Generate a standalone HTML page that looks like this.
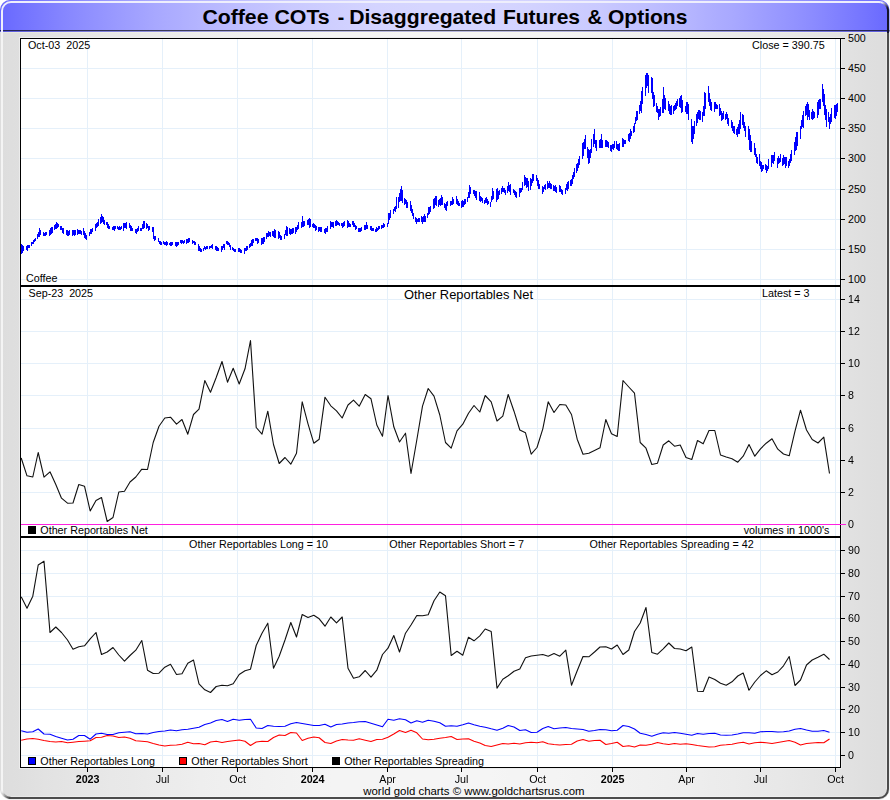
<!DOCTYPE html>
<html><head><meta charset="utf-8"><title>Coffee COTs</title>
<style>html,body{margin:0;padding:0;background:#fff;}svg{display:block}text{font-family:"Liberation Sans",sans-serif;fill:#000}</style></head><body>
<svg width="890" height="800" viewBox="0 0 890 800">
<defs>
<linearGradient id="bg" x1="0" x2="1" y1="0" y2="0"><stop offset="0.000" stop-color="#dddddd"/><stop offset="0.025" stop-color="#dfdfdf"/><stop offset="0.050" stop-color="#e2e2e2"/><stop offset="0.075" stop-color="#e4e4e4"/><stop offset="0.100" stop-color="#e6e6e6"/><stop offset="0.125" stop-color="#e8e8e8"/><stop offset="0.150" stop-color="#e9e9e9"/><stop offset="0.175" stop-color="#ebebeb"/><stop offset="0.200" stop-color="#ececec"/><stop offset="0.225" stop-color="#eeeeee"/><stop offset="0.250" stop-color="#efefef"/><stop offset="0.275" stop-color="#f0f0f0"/><stop offset="0.300" stop-color="#f1f1f1"/><stop offset="0.325" stop-color="#f2f2f2"/><stop offset="0.350" stop-color="#f3f3f3"/><stop offset="0.375" stop-color="#f4f4f4"/><stop offset="0.400" stop-color="#f4f4f4"/><stop offset="0.425" stop-color="#f4f4f4"/><stop offset="0.450" stop-color="#f5f5f5"/><stop offset="0.475" stop-color="#f5f5f5"/><stop offset="0.500" stop-color="#f5f5f5"/><stop offset="0.525" stop-color="#f5f5f5"/><stop offset="0.550" stop-color="#f5f5f5"/><stop offset="0.575" stop-color="#f4f4f4"/><stop offset="0.600" stop-color="#f4f4f4"/><stop offset="0.625" stop-color="#f4f4f4"/><stop offset="0.650" stop-color="#f3f3f3"/><stop offset="0.675" stop-color="#f2f2f2"/><stop offset="0.700" stop-color="#f1f1f1"/><stop offset="0.725" stop-color="#f0f0f0"/><stop offset="0.750" stop-color="#efefef"/><stop offset="0.775" stop-color="#eeeeee"/><stop offset="0.800" stop-color="#ececec"/><stop offset="0.825" stop-color="#ebebeb"/><stop offset="0.850" stop-color="#e9e9e9"/><stop offset="0.875" stop-color="#e8e8e8"/><stop offset="0.900" stop-color="#e6e6e6"/><stop offset="0.925" stop-color="#e4e4e4"/><stop offset="0.950" stop-color="#e2e2e2"/><stop offset="0.975" stop-color="#dfdfdf"/><stop offset="1.000" stop-color="#dddddd"/></linearGradient>
<linearGradient id="hg" x1="0" x2="1" y1="0" y2="0"><stop offset="0.000" stop-color="#6868ff"/><stop offset="0.025" stop-color="#7373ff"/><stop offset="0.050" stop-color="#7d7dff"/><stop offset="0.075" stop-color="#8787ff"/><stop offset="0.100" stop-color="#9090ff"/><stop offset="0.125" stop-color="#9898ff"/><stop offset="0.150" stop-color="#a0a0ff"/><stop offset="0.175" stop-color="#a8a8ff"/><stop offset="0.200" stop-color="#aeaeff"/><stop offset="0.225" stop-color="#b5b5ff"/><stop offset="0.250" stop-color="#babaff"/><stop offset="0.275" stop-color="#c0c0ff"/><stop offset="0.300" stop-color="#c4c4ff"/><stop offset="0.325" stop-color="#c9c9ff"/><stop offset="0.350" stop-color="#ccccff"/><stop offset="0.375" stop-color="#cfcfff"/><stop offset="0.400" stop-color="#d2d2ff"/><stop offset="0.425" stop-color="#d4d4ff"/><stop offset="0.450" stop-color="#d5d5ff"/><stop offset="0.475" stop-color="#d6d6ff"/><stop offset="0.500" stop-color="#d6d6ff"/><stop offset="0.525" stop-color="#d6d6ff"/><stop offset="0.550" stop-color="#d5d5ff"/><stop offset="0.575" stop-color="#d4d4ff"/><stop offset="0.600" stop-color="#d2d2ff"/><stop offset="0.625" stop-color="#cfcfff"/><stop offset="0.650" stop-color="#ccccff"/><stop offset="0.675" stop-color="#c9c9ff"/><stop offset="0.700" stop-color="#c4c4ff"/><stop offset="0.725" stop-color="#c0c0ff"/><stop offset="0.750" stop-color="#babaff"/><stop offset="0.775" stop-color="#b5b5ff"/><stop offset="0.800" stop-color="#aeaeff"/><stop offset="0.825" stop-color="#a8a8ff"/><stop offset="0.850" stop-color="#a0a0ff"/><stop offset="0.875" stop-color="#9898ff"/><stop offset="0.900" stop-color="#9090ff"/><stop offset="0.925" stop-color="#8787ff"/><stop offset="0.950" stop-color="#7d7dff"/><stop offset="0.975" stop-color="#7373ff"/><stop offset="1.000" stop-color="#6868ff"/></linearGradient>
<clipPath id="fr"><rect x="0" y="0" width="889.5" height="799.5" rx="10" ry="10"/></clipPath>
<clipPath id="p1"><rect x="21" y="39" width="819" height="246"/></clipPath>
<clipPath id="p2"><rect x="21" y="287" width="819" height="249"/></clipPath>
<clipPath id="p3"><rect x="21" y="538" width="819" height="229"/></clipPath>
</defs>
<rect x="0" y="0" width="890" height="800" fill="#fff"/>
<g clip-path="url(#fr)">
<rect x="0" y="0" width="890" height="800" fill="url(#bg)"/>
<rect x="0" y="0" width="890" height="32" fill="url(#hg)"/>
<rect x="0" y="30" width="890" height="1" fill="#000" fill-opacity="0.66"/>
<rect x="0" y="31" width="890" height="1" fill="#000018" fill-opacity="0.14"/>
<rect x="0" y="32" width="890" height="1" fill="#ffffd8" fill-opacity="0.28"/>
<path d="M2 33 V11 A9 9 0 0 1 11 2 H879" fill="none" stroke="#eeeefc" stroke-width="2"/>
<path d="M2 789 V33" fill="none" stroke="#f4f4f4" stroke-width="2"/>
<path d="M888 33 V789 A9 9 0 0 1 879 798 H11" fill="none" stroke="#4c4c4c" stroke-width="2"/>
<path d="M8.34 797.60 A9 9 0 0 1 7.16 797.14" fill="none" stroke="#555555" stroke-width="2"/><path d="M7.32 797.21 A9 9 0 0 1 6.20 796.61" fill="none" stroke="#6a6a6a" stroke-width="2"/><path d="M6.35 796.71 A9 9 0 0 1 5.31 795.98" fill="none" stroke="#7f7f7f" stroke-width="2"/><path d="M5.45 796.09 A9 9 0 0 1 4.51 795.24" fill="none" stroke="#949494" stroke-width="2"/><path d="M4.64 795.36 A9 9 0 0 1 3.80 794.40" fill="none" stroke="#aaaaaa" stroke-width="2"/><path d="M3.91 794.55 A9 9 0 0 1 3.20 793.49" fill="none" stroke="#bfbfbf" stroke-width="2"/><path d="M3.29 793.65 A9 9 0 0 1 2.72 792.52" fill="none" stroke="#d4d4d4" stroke-width="2"/><path d="M2.79 792.68 A9 9 0 0 1 2.35 791.49" fill="none" stroke="#e9e9e9" stroke-width="2"/><path d="M11.00 798.00 A9 9 0 0 1 8.17 797.54" fill="none" stroke="#4a4a4a" stroke-width="2"/><path d="M2.40 791.66 A9 9 0 0 1 2.00 788.82" fill="none" stroke="#f4f4f4" stroke-width="2"/>
<path d="M879.00 2.00 A9 9 0 0 1 880.74 2.17" fill="none" stroke="#eeeefc" stroke-width="2"/><path d="M880.57 2.14 A9 9 0 0 1 882.25 2.61" fill="none" stroke="#eeeefc" stroke-width="2"/>
<path d="M882.09 2.55 A9 9 0 0 1 883.15 3.01" fill="none" stroke="#e0e0ef" stroke-width="2"/><path d="M882.99 2.93 A9 9 0 0 1 883.99 3.51" fill="none" stroke="#c5c5d5" stroke-width="2"/><path d="M883.84 3.41 A9 9 0 0 1 884.77 4.10" fill="none" stroke="#aaaaba" stroke-width="2"/><path d="M884.63 3.98 A9 9 0 0 1 885.49 4.76" fill="none" stroke="#8f8fa0" stroke-width="2"/><path d="M885.36 4.64 A9 9 0 0 1 886.13 5.51" fill="none" stroke="#737386" stroke-width="2"/><path d="M886.02 5.37 A9 9 0 0 1 886.68 6.31" fill="none" stroke="#58586c" stroke-width="2"/><path d="M886.59 6.16 A9 9 0 0 1 887.15 7.18" fill="none" stroke="#3d3d51" stroke-width="2"/><path d="M887.07 7.01 A9 9 0 0 1 887.51 8.08" fill="none" stroke="#222237" stroke-width="2"/>
<path d="M887.46 7.9 A9 9 0 0 1 888 11 V33" fill="none" stroke="#14142a" stroke-width="2"/>
<rect x="886" y="33" width="1" height="756" fill="#ffffff" fill-opacity="0.3"/>
<rect x="11" y="796" width="868" height="1" fill="#ffffff" fill-opacity="0.3"/>
</g>
<text transform="translate(202.40,23.6) scale(1.0900,1)" x="0" y="0" font-size="19.5" font-weight="bold">Coffee</text>
<text transform="translate(274.40,23.6) scale(1.0950,1)" x="0" y="0" font-size="19.5" font-weight="bold">COTs</text>
<text transform="translate(337.80,23.6) scale(1.0000,1)" x="0" y="0" font-size="19.5" font-weight="bold">-</text>
<text transform="translate(349.20,23.6) scale(1.0850,1)" x="0" y="0" font-size="19.5" font-weight="bold">Disaggregated</text>
<text transform="translate(502.90,23.6) scale(1.0800,1)" x="0" y="0" font-size="19.5" font-weight="bold">Futures</text>
<text transform="translate(587.40,23.6) scale(1.0500,1)" x="0" y="0" font-size="19.5" font-weight="bold">&amp;</text>
<text transform="translate(607.90,23.6) scale(1.0800,1)" x="0" y="0" font-size="19.5" font-weight="bold">Options</text>
<rect x="19.5" y="37.5" width="822" height="731" fill="none" stroke="#ececec" stroke-width="1"/>
<rect x="20.5" y="38.5" width="820" height="729" fill="#fff" stroke="#000" stroke-width="1"/>
<path d="M87.5 39V767 M162.5 39V767 M237.5 39V767 M312.5 39V767 M387.5 39V767 M461.5 39V767 M537.5 39V767 M612.5 39V767 M686.5 39V767 M760.5 39V767 M835.5 39V767 M21 279.5H840 M21 249.5H840 M21 219.5H840 M21 189.5H840 M21 158.5H840 M21 128.5H840 M21 98.5H840 M21 68.5H840 M21 524.5H840 M21 492.5H840 M21 460.5H840 M21 428.5H840 M21 395.5H840 M21 363.5H840 M21 331.5H840 M21 299.5H840 M21 755.5H840 M21 732.5H840 M21 709.5H840 M21 687.5H840 M21 664.5H840 M21 641.5H840 M21 618.5H840 M21 596.5H840 M21 573.5H840 M21 550.5H840" stroke="#e5f0fa" stroke-width="1" fill="none"/>
<rect x="20" y="285" width="821" height="2" fill="#000"/>
<rect x="20" y="536" width="821" height="2" fill="#000"/>
<path d="M841 279.5H845 M841 249.5H845 M841 219.5H845 M841 189.5H845 M841 158.5H845 M841 128.5H845 M841 98.5H845 M841 68.5H845 M841 38.5H845 M841 524.5H845 M841 492.5H845 M841 460.5H845 M841 428.5H845 M841 395.5H845 M841 363.5H845 M841 331.5H845 M841 299.5H845 M841 755.5H845 M841 732.5H845 M841 709.5H845 M841 687.5H845 M841 664.5H845 M841 641.5H845 M841 618.5H845 M841 596.5H845 M841 573.5H845 M841 550.5H845 M87.5 768V772 M162.5 768V772 M237.5 768V772 M312.5 768V772 M387.5 768V772 M461.5 768V772 M537.5 768V772 M612.5 768V772 M686.5 768V772 M760.5 768V772 M835.5 768V772" stroke="#000" stroke-width="1" fill="none"/>
<rect x="21" y="524" width="825" height="1" fill="#ff20e0"/>
<g clip-path="url(#p1)"><path d="M21.5 244V254M22.5 245V253M23.5 246V251M26.5 246V250M27.5 245V251M28.5 245V248M29.5 245V248M31.5 242V246M32.5 242V244M33.5 240V244M34.5 239V242M35.5 238V241M37.5 234V239M38.5 232V237M39.5 228V237M40.5 230V235M43.5 232V236M44.5 233V236M45.5 232V236M46.5 232V235M49.5 230V236M50.5 228V235M51.5 227V234M52.5 227V233M54.5 225V230M55.5 224V229M56.5 222V229M57.5 223V228M58.5 224V227M60.5 226V230M61.5 226V230M62.5 228V233M63.5 228V234M66.5 230V235M67.5 230V236M68.5 231V236M69.5 230V235M72.5 230V236M73.5 230V235M74.5 230V236M75.5 230V235M77.5 229V235M78.5 230V234M79.5 230V234M80.5 230V234M81.5 231V235M83.5 228V235M84.5 231V238M85.5 233V239M86.5 235V240M89.5 232V236M90.5 229V234M91.5 229V234M92.5 228V232M95.5 224V231M96.5 223V228M97.5 222V227M98.5 219V226M100.5 217V224M101.5 214V223M102.5 216V222M103.5 217V224M104.5 220V225M106.5 222V225M107.5 222V228M108.5 224V229M109.5 226V229M112.5 227V230M113.5 226V230M114.5 226V231M115.5 226V229M117.5 226V229M118.5 227V230M119.5 226V230M120.5 227V230M121.5 226V229M123.5 223V231M124.5 223V228M125.5 223V228M126.5 222V229M129.5 223V228M130.5 225V231M131.5 226V231M132.5 228V231M135.5 229V233M136.5 229V234M137.5 228V232M138.5 226V231M140.5 228V231M141.5 228V231M142.5 224V229M143.5 221V229M144.5 221V228M146.5 223V229M147.5 224V228M148.5 226V231M149.5 226V230M152.5 227V232M153.5 227V239M154.5 236V241M155.5 236V240M158.5 238V242M159.5 241V244M160.5 241V245M161.5 242V245M163.5 241V244M164.5 242V245M165.5 242V245M166.5 241V246M167.5 242V245M169.5 243V245M170.5 242V246M171.5 242V246M172.5 242V245M175.5 242V246M176.5 242V247M177.5 242V246M178.5 242V245M180.5 240V243M181.5 240V244M182.5 240V243M183.5 241V244M184.5 240V243M186.5 239V244M187.5 239V243M188.5 238V243M189.5 238V242M192.5 240V244M193.5 241V243M194.5 241V245M195.5 242V245M198.5 244V251M199.5 246V251M200.5 248V252M201.5 249V252M203.5 248V251M204.5 246V249M205.5 247V250M206.5 246V249M207.5 246V249M209.5 246V249M210.5 246V248M211.5 245V248M212.5 244V249M215.5 246V250M216.5 246V251M217.5 247V251M218.5 248V251M221.5 246V252M222.5 246V250M223.5 244V248M224.5 244V250M226.5 241V244M227.5 241V245M228.5 242V245M229.5 243V247M230.5 245V250M232.5 247V250M233.5 248V251M234.5 249V252M235.5 249V252M238.5 248V252M239.5 248V252M240.5 249V253M241.5 250V253M244.5 248V254M245.5 248V251M246.5 246V251M247.5 246V250M249.5 244V248M250.5 243V247M251.5 240V246M252.5 239V246M253.5 239V243M255.5 238V241M256.5 238V241M257.5 238V244M258.5 239V243M261.5 238V245M262.5 238V244M263.5 237V244M264.5 237V242M266.5 233V239M267.5 233V237M268.5 231V237M269.5 232V236M270.5 232V237M272.5 231V236M273.5 231V237M274.5 229V238M275.5 230V238M278.5 231V239M279.5 232V238M280.5 235V240M281.5 236V240M284.5 234V239M285.5 230V235M286.5 226V236M287.5 227V236M289.5 228V234M290.5 229V235M291.5 229V234M292.5 228V234M293.5 228V233M295.5 227V234M296.5 227V232M297.5 225V230M298.5 222V229M301.5 222V228M302.5 216V227M303.5 221V227M304.5 221V226M307.5 220V225M308.5 219V225M309.5 218V228M310.5 219V227M312.5 224V227M313.5 223V228M314.5 224V228M315.5 225V231M316.5 226V230M318.5 227V232M319.5 227V231M320.5 227V232M321.5 227V232M324.5 229V233M325.5 228V234M326.5 228V232M327.5 226V232M330.5 221V229M331.5 222V227M332.5 222V227M333.5 222V228M335.5 221V226M336.5 220V226M337.5 221V225M338.5 222V225M339.5 223V226M341.5 223V226M342.5 223V228M343.5 222V227M344.5 221V226M347.5 220V228M348.5 221V227M349.5 223V227M350.5 224V227M352.5 221V225M353.5 221V227M354.5 223V227M355.5 225V230M356.5 226V229M358.5 228V232M359.5 228V232M360.5 228V232M361.5 227V231M364.5 225V230M365.5 225V230M366.5 222V229M367.5 225V229M370.5 226V230M371.5 226V231M372.5 228V231M373.5 228V231M375.5 229V232M376.5 227V232M377.5 228V231M378.5 226V230M379.5 226V229M381.5 225V229M382.5 225V228M383.5 223V228M384.5 224V227M387.5 223V227M388.5 213V224M389.5 213V220M390.5 210V218M393.5 209V214M394.5 207V211M395.5 206V212M396.5 197V209M398.5 197V208M399.5 193V202M400.5 189V201M401.5 186V201M402.5 190V203M404.5 198V205M405.5 199V204M406.5 200V208M407.5 202V208M410.5 201V211M411.5 205V213M412.5 209V216M413.5 213V219M415.5 217V222M416.5 218V224M417.5 219V222M418.5 218V222M419.5 218V222M421.5 216V222M422.5 217V224M423.5 216V222M424.5 214V222M425.5 216V222M427.5 213V218M428.5 207V215M429.5 207V214M430.5 206V212M433.5 199V209M434.5 198V208M435.5 196V205M436.5 196V206M438.5 200V207M439.5 199V205M440.5 198V206M441.5 195V205M442.5 197V205M444.5 203V208M445.5 204V210M446.5 202V211M447.5 201V206M450.5 201V206M451.5 201V205M452.5 197V205M453.5 199V204M456.5 196V204M457.5 199V205M458.5 201V206M459.5 203V206M461.5 201V208M462.5 200V207M463.5 201V207M464.5 199V205M465.5 199V204M467.5 197V202M468.5 192V198M469.5 185V198M470.5 187V194M473.5 190V194M474.5 190V196M475.5 191V198M476.5 191V200M479.5 192V201M480.5 196V202M481.5 197V201M482.5 198V203M484.5 200V204M485.5 198V203M486.5 197V203M487.5 199V205M488.5 201V204M490.5 202V207M491.5 196V202M492.5 188V200M493.5 191V199M496.5 189V202M497.5 188V200M498.5 191V199M499.5 190V195M501.5 188V194M502.5 186V192M503.5 188V192M504.5 188V193M505.5 190V195M507.5 186V193M508.5 182V191M509.5 185V192M510.5 184V195M513.5 189V193M514.5 190V195M515.5 191V197M516.5 192V198M519.5 188V197M520.5 188V193M521.5 188V192M522.5 182V190M524.5 175V186M525.5 177V185M526.5 178V188M527.5 178V187M528.5 181V191M530.5 178V190M531.5 179V186M532.5 174V183M533.5 174V181M536.5 175V181M537.5 178V186M538.5 180V189M539.5 184V189M542.5 186V194M543.5 187V192M544.5 185V189M545.5 184V190M547.5 181V189M548.5 183V188M549.5 181V188M550.5 183V189M551.5 184V189M553.5 185V191M554.5 186V191M555.5 185V192M556.5 187V193M559.5 185V192M560.5 186V192M561.5 189V194M562.5 190V195M565.5 188V194M566.5 184V190M567.5 182V191M568.5 181V189M570.5 180V186M571.5 179V186M572.5 175V184M573.5 172V179M574.5 168V177M576.5 164V173M577.5 163V171M578.5 159V168M579.5 156V165M582.5 143V159M583.5 142V156M584.5 139V149M585.5 135V149M587.5 147V158M588.5 149V164M589.5 150V163M590.5 149V158M591.5 139V153M593.5 134V147M594.5 129V144M595.5 140V148M596.5 140V151M599.5 140V148M600.5 139V148M601.5 134V148M602.5 140V148M605.5 140V147M606.5 140V147M607.5 141V147M608.5 142V148M610.5 145V151M611.5 145V152M612.5 144V149M613.5 144V150M614.5 141V148M616.5 141V149M617.5 144V150M618.5 144V151M619.5 143V151M622.5 138V147M623.5 139V147M624.5 140V144M625.5 140V144M628.5 134V141M629.5 133V142M630.5 129V139M631.5 131V136M633.5 126V133M634.5 123V132M635.5 117V124M636.5 111V121M637.5 111V120M639.5 105V114M640.5 101V111M641.5 91V113M642.5 87V104M645.5 75V96M646.5 73V88M647.5 73V86M648.5 75V93M651.5 77V93M652.5 78V99M653.5 92V107M654.5 95V106M656.5 103V112M657.5 106V113M658.5 109V120M659.5 109V117M660.5 107V116M662.5 99V113M663.5 87V113M664.5 95V109M665.5 98V110M668.5 101V111M669.5 104V114M670.5 106V115M671.5 105V115M673.5 106V114M674.5 105V111M675.5 103V110M676.5 101V109M677.5 99V106M679.5 98V107M680.5 96V108M681.5 95V113M682.5 100V112M685.5 106V112M686.5 102V114M687.5 102V114M688.5 104V120M691.5 119V142M692.5 126V144M693.5 126V139M694.5 121V134M696.5 114V126M697.5 112V123M698.5 110V119M699.5 110V120M700.5 111V120M702.5 112V122M703.5 106V116M704.5 92V116M705.5 93V109M708.5 86V102M709.5 93V106M710.5 99V110M711.5 102V111M714.5 102V112M715.5 102V109M716.5 104V109M717.5 105V109M719.5 104V116M720.5 108V115M721.5 111V121M722.5 113V120M723.5 111V119M725.5 114V120M726.5 112V119M727.5 114V124M728.5 118V126M731.5 120V128M732.5 122V131M733.5 126V133M734.5 126V134M736.5 129V135M737.5 127V137M738.5 124V134M739.5 120V134M740.5 112V129M742.5 114V125M743.5 115V128M744.5 122V131M745.5 126V137M748.5 126V140M749.5 129V150M750.5 135V152M751.5 141V152M754.5 143V155M755.5 148V157M756.5 154V163M757.5 157V164M759.5 154V166M760.5 161V169M761.5 162V172M762.5 165V171M763.5 165V169M765.5 164V170M766.5 165V173M767.5 166V171M768.5 159V169M771.5 155V167M772.5 155V163M773.5 155V164M774.5 152V161M777.5 158V168M778.5 156V164M779.5 158V163M780.5 154V162M782.5 158V166M783.5 155V165M784.5 157V164M785.5 157V168M786.5 157V166M788.5 161V168M789.5 159V166M790.5 154V163M791.5 150V161M794.5 142V155M795.5 137V151M796.5 132V150M797.5 132V146M800.5 126V139M801.5 120V129M802.5 115V127M803.5 111V128M805.5 106V116M806.5 104V115M807.5 102V120M808.5 104V117M809.5 110V120M811.5 112V119M812.5 109V120M813.5 111V119M814.5 112V118M817.5 102V118M818.5 100V115M819.5 99V109M820.5 99V109M822.5 84V102M823.5 89V106M824.5 94V115M825.5 105V120M826.5 109V127M828.5 112V122M829.5 117V129M830.5 114V124M831.5 108V122M834.5 105V118M835.5 105V119M836.5 104V116M837.5 103V112" stroke="#0000ff" stroke-width="1" fill="none" shape-rendering="crispEdges"/></g>
<g clip-path="url(#p2)"><path d="M21.2 458.0 L27.0 475.8 L32.8 477.0 L38.2 452.5 L44.0 477.2 L50.0 471.8 L55.8 484.5 L61.5 498.2 L67.5 503.2 L73.0 503.0 L78.8 484.5 L84.5 486.2 L90.2 511.0 L96.0 500.5 L101.5 497.5 L107.2 521.5 L113.0 517.5 L118.8 492.0 L124.5 491.2 L130.0 482.0 L135.8 477.0 L141.8 469.2 L147.5 469.5 L153.2 442.5 L159.0 426.2 L164.8 418.0 L170.5 417.2 L176.5 424.2 L182.0 419.5 L187.8 434.2 L193.5 414.5 L199.0 409.2 L204.8 380.5 L210.5 392.2 L216.2 377.5 L222.0 361.5 L227.5 382.2 L233.2 368.2 L239.2 384.0 L245.0 368.8 L250.5 340.5 L256.2 427.5 L262.0 434.2 L267.8 411.2 L273.5 444.5 L279.2 463.5 L285.0 457.5 L290.8 464.2 L296.5 453.2 L302.2 401.8 L308.0 423.8 L313.8 443.2 L319.2 439.2 L325.0 397.2 L330.8 405.8 L336.5 410.8 L342.2 418.0 L348.0 405.0 L353.5 400.2 L359.2 406.2 L365.2 394.5 L371.0 398.8 L376.8 425.0 L382.5 436.2 L388.0 395.5 L393.8 426.8 L399.5 442.0 L405.5 433.2 L411.0 473.5 L416.8 440.0 L422.5 406.2 L428.2 388.5 L434.0 396.2 L439.8 415.0 L445.5 442.5 L451.2 448.2 L457.0 430.8 L462.8 424.2 L468.5 413.2 L474.0 405.5 L479.8 412.0 L485.2 395.5 L491.2 401.8 L497.0 421.0 L502.8 416.2 L508.2 394.5 L514.0 411.2 L519.8 430.0 L525.5 432.8 L531.2 454.2 L537.0 447.5 L542.8 428.8 L548.2 401.8 L554.0 412.5 L559.8 404.5 L565.8 405.0 L571.5 414.5 L577.2 439.2 L583.0 454.2 L588.8 453.2 L594.5 450.5 L600.0 447.8 L605.8 419.5 L611.5 433.8 L617.2 436.5 L623.0 380.5 L628.8 387.0 L634.5 393.2 L640.2 442.5 L646.0 448.2 L651.8 464.5 L657.5 463.2 L663.2 445.0 L668.8 440.8 L674.5 446.2 L680.2 445.0 L686.0 457.5 L691.8 459.5 L697.5 440.5 L703.2 443.8 L709.0 430.5 L714.8 430.5 L720.5 455.0 L726.2 457.0 L732.0 458.8 L737.8 462.2 L743.2 456.2 L749.0 444.5 L754.8 456.2 L760.5 448.8 L766.2 443.2 L772.0 438.8 L777.8 449.2 L783.5 454.0 L789.2 455.8 L795.0 431.2 L800.5 410.2 L806.5 430.0 L812.2 439.5 L818.0 443.0 L823.8 437.2 L829.5 473.5" stroke="#101010" stroke-width="1.1" fill="none" stroke-linejoin="round"/></g>
<g clip-path="url(#p3)"><path d="M21.2 596.8 L27.0 608.2 L32.8 596.2 L38.2 565.0 L44.0 561.2 L50.0 632.5 L55.8 627.0 L61.5 632.5 L67.5 640.0 L73.0 649.2 L78.8 646.8 L84.5 645.8 L90.2 638.8 L96.0 632.5 L101.5 654.5 L107.2 652.0 L113.0 647.5 L118.8 655.0 L124.5 661.2 L130.0 655.5 L135.8 650.2 L141.8 640.5 L147.5 670.2 L153.2 673.5 L159.0 673.2 L164.8 667.2 L170.5 664.2 L176.5 674.5 L182.0 673.8 L187.8 663.2 L193.5 660.0 L199.0 683.8 L204.8 689.8 L210.5 692.5 L216.2 686.5 L222.0 685.2 L227.5 685.8 L233.2 683.8 L239.2 674.5 L245.0 670.8 L250.5 669.2 L256.2 645.5 L262.0 633.2 L267.8 623.2 L273.5 668.2 L279.2 656.2 L285.0 640.0 L290.8 622.5 L296.5 637.0 L302.2 614.5 L308.0 617.5 L313.8 615.2 L319.2 618.8 L325.0 626.2 L330.8 617.0 L336.5 622.8 L342.2 617.0 L348.0 668.2 L353.5 678.2 L359.2 676.8 L365.2 670.5 L371.0 677.2 L376.8 670.2 L382.5 654.5 L388.0 648.2 L393.8 635.5 L399.5 652.0 L405.5 633.2 L411.0 625.0 L416.8 615.5 L422.5 615.8 L428.2 614.8 L434.0 600.8 L439.8 592.0 L445.5 595.8 L451.2 655.5 L457.0 651.2 L462.8 655.2 L468.5 637.2 L474.0 640.8 L479.8 635.8 L485.2 629.0 L491.2 631.5 L497.0 688.2 L502.8 679.2 L508.2 675.8 L514.0 671.2 L519.8 669.0 L525.5 657.8 L531.2 656.0 L537.0 655.2 L542.8 654.5 L548.2 656.2 L554.0 653.5 L559.8 656.2 L565.8 650.2 L571.5 685.2 L577.2 670.8 L583.0 656.5 L588.8 656.8 L594.5 652.0 L600.0 647.0 L605.8 646.8 L611.5 649.0 L617.2 645.0 L623.0 654.5 L628.8 650.0 L634.5 631.5 L640.2 623.0 L646.0 607.5 L651.8 652.5 L657.5 654.2 L663.2 648.8 L668.8 643.0 L674.5 648.5 L680.2 649.0 L686.0 650.8 L691.8 647.0 L697.5 691.2 L703.2 691.5 L709.0 677.0 L714.8 679.5 L720.5 683.2 L726.2 685.2 L732.0 681.8 L737.8 676.0 L743.2 673.0 L749.0 690.2 L754.8 682.0 L760.5 675.5 L766.2 670.8 L772.0 674.8 L777.8 672.0 L783.5 665.8 L789.2 656.5 L795.0 685.5 L800.5 680.0 L806.5 665.0 L812.2 660.0 L818.0 657.2 L823.8 654.2 L829.5 659.5" stroke="#101010" stroke-width="1.1" fill="none" stroke-linejoin="round"/>
<path d="M21.2 740.2 L27.0 739.0 L32.8 738.5 L38.2 739.2 L44.0 740.5 L50.0 741.5 L55.8 742.0 L61.5 741.5 L67.5 742.8 L73.0 742.2 L78.8 741.5 L84.5 741.2 L90.2 740.8 L96.0 737.5 L101.5 737.2 L107.2 735.5 L113.0 736.0 L118.8 737.5 L124.5 737.0 L130.0 738.2 L135.8 740.8 L141.8 741.2 L147.5 741.8 L153.2 743.5 L159.0 745.0 L164.8 746.0 L170.5 745.2 L176.5 745.0 L182.0 744.2 L187.8 742.2 L193.5 743.8 L199.0 743.5 L204.8 744.8 L210.5 742.0 L216.2 741.2 L222.0 742.5 L227.5 741.5 L233.2 740.8 L239.2 740.0 L245.0 741.2 L250.5 745.5 L256.2 742.0 L262.0 741.2 L267.8 741.5 L273.5 737.5 L279.2 735.0 L285.0 735.5 L290.8 732.5 L296.5 733.0 L302.2 740.5 L308.0 738.2 L313.8 737.0 L319.2 737.8 L325.0 742.5 L330.8 743.5 L336.5 741.0 L342.2 739.5 L348.0 740.0 L353.5 740.2 L359.2 738.8 L365.2 740.2 L371.0 741.5 L376.8 739.5 L382.5 739.2 L388.0 737.2 L393.8 734.0 L399.5 730.5 L405.5 732.5 L411.0 730.2 L416.8 732.8 L422.5 739.0 L428.2 739.8 L434.0 739.2 L439.8 738.2 L445.5 737.5 L451.2 736.5 L457.0 739.5 L462.8 739.0 L468.5 738.8 L474.0 741.2 L479.8 743.0 L485.2 745.5 L491.2 746.5 L497.0 745.0 L502.8 743.5 L508.2 744.0 L514.0 743.2 L519.8 744.0 L525.5 742.8 L531.2 742.2 L537.0 742.8 L542.8 741.8 L548.2 743.8 L554.0 744.5 L559.8 745.0 L565.8 744.5 L571.5 744.2 L577.2 741.0 L583.0 739.5 L588.8 741.2 L594.5 740.5 L600.0 740.2 L605.8 744.5 L611.5 743.5 L617.2 742.2 L623.0 746.5 L628.8 745.8 L634.5 747.0 L640.2 745.0 L646.0 745.2 L651.8 744.2 L657.5 742.5 L663.2 743.8 L668.8 744.5 L674.5 743.5 L680.2 744.2 L686.0 743.8 L691.8 744.5 L697.5 745.5 L703.2 746.2 L709.0 747.0 L714.8 746.8 L720.5 745.2 L726.2 744.8 L732.0 744.2 L737.8 743.0 L743.2 742.2 L749.0 744.0 L754.8 742.8 L760.5 742.2 L766.2 742.8 L772.0 743.5 L777.8 742.5 L783.5 741.5 L789.2 740.5 L795.0 742.2 L800.5 745.0 L806.5 743.5 L812.2 743.0 L818.0 742.5 L823.8 742.8 L829.5 739.0" stroke="#ff0000" stroke-width="1.1" fill="none" stroke-linejoin="round"/>
<path d="M21.2 730.8 L27.0 732.2 L32.8 731.8 L38.2 729.0 L44.0 734.0 L50.0 734.2 L55.8 736.5 L61.5 738.2 L67.5 740.0 L73.0 739.2 L78.8 735.5 L84.5 735.5 L90.2 739.2 L96.0 734.0 L101.5 733.2 L107.2 734.5 L113.0 734.5 L118.8 732.8 L124.5 732.2 L130.0 731.8 L135.8 733.8 L141.8 733.5 L147.5 734.0 L153.2 732.5 L159.0 731.5 L164.8 731.0 L170.5 730.0 L176.5 730.8 L182.0 729.8 L187.8 729.2 L193.5 728.2 L199.0 727.2 L204.8 724.5 L210.5 723.0 L216.2 720.5 L222.0 719.5 L227.5 721.5 L233.2 719.2 L239.2 720.2 L245.0 719.5 L250.5 719.2 L256.2 728.0 L262.0 728.5 L267.8 725.5 L273.5 726.2 L279.2 726.5 L285.0 726.2 L290.8 723.8 L296.5 722.5 L302.2 723.5 L308.0 724.5 L313.8 725.5 L319.2 725.5 L325.0 724.2 L330.8 727.0 L336.5 724.5 L342.2 724.0 L348.0 723.0 L353.5 722.5 L359.2 721.8 L365.2 721.5 L371.0 723.2 L376.8 725.0 L382.5 726.8 L388.0 719.2 L393.8 720.2 L399.5 718.8 L405.5 719.8 L411.0 723.0 L416.8 720.8 L422.5 722.2 L428.2 720.2 L434.0 721.2 L439.8 722.8 L445.5 726.2 L451.2 725.8 L457.0 726.2 L462.8 724.8 L468.5 723.0 L474.0 724.8 L479.8 726.2 L485.2 727.2 L491.2 728.8 L497.0 730.2 L502.8 728.2 L508.2 725.5 L514.0 727.0 L519.8 730.5 L525.5 729.8 L531.2 732.5 L537.0 732.2 L542.8 728.5 L548.2 726.5 L554.0 728.8 L559.8 728.0 L565.8 727.5 L571.5 728.5 L577.2 729.0 L583.0 729.5 L588.8 731.2 L594.5 730.5 L600.0 729.5 L605.8 729.8 L611.5 730.8 L617.2 730.2 L623.0 725.5 L628.8 726.5 L634.5 729.0 L640.2 733.2 L646.0 734.5 L651.8 736.2 L657.5 734.2 L663.2 732.8 L668.8 733.2 L674.5 732.5 L680.2 733.2 L686.0 734.2 L691.8 735.2 L697.5 733.5 L703.2 734.2 L709.0 733.5 L714.8 733.2 L720.5 735.0 L726.2 735.2 L732.0 735.0 L737.8 734.0 L743.2 732.8 L749.0 732.8 L754.8 733.2 L760.5 731.8 L766.2 731.5 L772.0 731.5 L777.8 732.0 L783.5 731.8 L789.2 731.0 L795.0 729.2 L800.5 728.5 L806.5 730.0 L812.2 731.2 L818.0 731.2 L823.8 730.5 L829.5 732.2" stroke="#0000ff" stroke-width="1.1" fill="none" stroke-linejoin="round"/></g>
<text x="848" y="282.8" font-size="10.67" fill="#111">100</text>
<text x="848" y="252.8" font-size="10.67" fill="#111">150</text>
<text x="848" y="222.8" font-size="10.67" fill="#111">200</text>
<text x="848" y="192.8" font-size="10.67" fill="#111">250</text>
<text x="848" y="161.8" font-size="10.67" fill="#111">300</text>
<text x="848" y="131.8" font-size="10.67" fill="#111">350</text>
<text x="848" y="101.8" font-size="10.67" fill="#111">400</text>
<text x="848" y="71.8" font-size="10.67" fill="#111">450</text>
<text x="848" y="41.8" font-size="10.67" fill="#111">500</text>
<text x="28" y="49" font-size="10.75" xml:space="preserve">Oct-03  2025</text>
<text x="752" y="49" font-size="10.75">Close = 390.75</text>
<text x="26" y="282" font-size="10.75">Coffee</text>
<text x="28.5" y="296.5" font-size="10.75" xml:space="preserve">Sep-23  2025</text>
<text x="762" y="296.5" font-size="10.75">Latest = 3</text>
<text x="404" y="299" font-size="12.9">Other Reportables Net</text>
<rect x="28.5" y="526.5" width="7" height="7" fill="#000" stroke="#000" stroke-width="1"/>
<text x="40.3" y="533.5" font-size="10.75">Other Reportables Net</text>
<text x="743.7" y="534" font-size="10.75">volumes in 1000's</text>
<text x="189.1" y="547.5" font-size="10.75">Other Reportables Long = 10</text>
<text x="389.3" y="547.5" font-size="10.75">Other Reportables Short = 7</text>
<text x="589.6" y="547.5" font-size="10.75">Other Reportables Spreading = 42</text>
<rect x="28.5" y="757.5" width="7" height="7" fill="#0000ff" stroke="#000" stroke-width="1"/>
<text x="40.3" y="764.5" font-size="10.75">Other Reportables Long</text>
<rect x="179.5" y="757.5" width="7" height="7" fill="#ff0000" stroke="#000" stroke-width="1"/>
<text x="191.3" y="764.5" font-size="10.75">Other Reportables Short</text>
<rect x="332.5" y="757.5" width="7" height="7" fill="#000" stroke="#000" stroke-width="1"/>
<text x="344.2" y="764.5" font-size="10.75">Other Reportables Spreading</text>
<text x="363.3" y="794.6" font-size="10.7" textLength="221.3" lengthAdjust="spacingAndGlyphs">world gold charts © www.goldchartsrus.com</text>
</svg>
<svg width="890" height="800" viewBox="0 0 890 800" style="position:absolute;left:0;top:0;will-change:transform">
<text transform="translate(87.6,783) scale(0.95,1)" x="0" y="0" text-anchor="middle" font-size="11.3" font-weight="bold" fill="#000">2023</text>
<text transform="translate(162.6,783) scale(0.95,1)" x="0" y="0" text-anchor="middle" font-size="11.3" fill="#000">Jul</text>
<text transform="translate(237.6,783) scale(0.95,1)" x="0" y="0" text-anchor="middle" font-size="11.3" fill="#000">Oct</text>
<text transform="translate(312.6,783) scale(0.95,1)" x="0" y="0" text-anchor="middle" font-size="11.3" font-weight="bold" fill="#000">2024</text>
<text transform="translate(387.6,783) scale(0.95,1)" x="0" y="0" text-anchor="middle" font-size="11.3" fill="#000">Apr</text>
<text transform="translate(461.6,783) scale(0.95,1)" x="0" y="0" text-anchor="middle" font-size="11.3" fill="#000">Jul</text>
<text transform="translate(537.6,783) scale(0.95,1)" x="0" y="0" text-anchor="middle" font-size="11.3" fill="#000">Oct</text>
<text transform="translate(612.6,783) scale(0.95,1)" x="0" y="0" text-anchor="middle" font-size="11.3" font-weight="bold" fill="#000">2025</text>
<text transform="translate(686.6,783) scale(0.95,1)" x="0" y="0" text-anchor="middle" font-size="11.3" fill="#000">Apr</text>
<text transform="translate(760.6,783) scale(0.95,1)" x="0" y="0" text-anchor="middle" font-size="11.3" fill="#000">Jul</text>
<text transform="translate(835.6,783) scale(0.95,1)" x="0" y="0" text-anchor="middle" font-size="11.3" fill="#000">Oct</text>
<text x="848" y="527.9" font-size="10.67" fill="#000">0</text>
<text x="848" y="495.9" font-size="10.67" fill="#000">2</text>
<text x="848" y="463.9" font-size="10.67" fill="#000">4</text>
<text x="848" y="431.9" font-size="10.67" fill="#000">6</text>
<text x="848" y="398.9" font-size="10.67" fill="#000">8</text>
<text x="848" y="366.9" font-size="10.67" fill="#000">10</text>
<text x="848" y="334.9" font-size="10.67" fill="#000">12</text>
<text x="848" y="302.9" font-size="10.67" fill="#000">14</text>
<text x="848" y="758.9" font-size="10.67" fill="#000">0</text>
<text x="848" y="735.9" font-size="10.67" fill="#000">10</text>
<text x="848" y="712.9" font-size="10.67" fill="#000">20</text>
<text x="848" y="690.9" font-size="10.67" fill="#000">30</text>
<text x="848" y="667.9" font-size="10.67" fill="#000">40</text>
<text x="848" y="644.9" font-size="10.67" fill="#000">50</text>
<text x="848" y="621.9" font-size="10.67" fill="#000">60</text>
<text x="848" y="599.9" font-size="10.67" fill="#000">70</text>
<text x="848" y="576.9" font-size="10.67" fill="#000">80</text>
<text x="848" y="553.9" font-size="10.67" fill="#000">90</text>
</svg></body></html>
